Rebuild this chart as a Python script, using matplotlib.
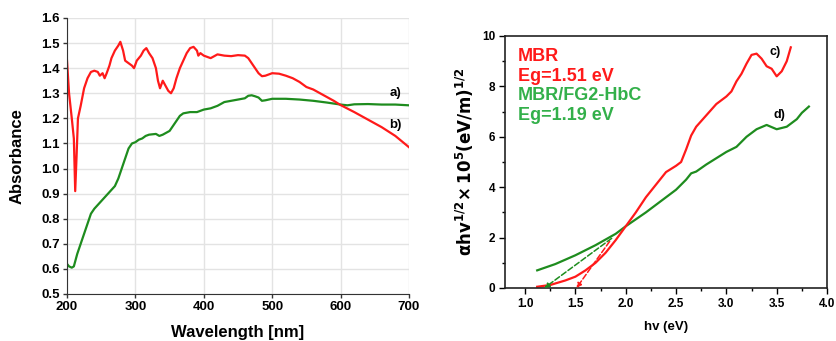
import matplotlib
matplotlib.use("Agg")
import matplotlib.pyplot as plt
from matplotlib.ticker import MultipleLocator

plt.rcParams['font.family'] = ['Liberation Sans', 'DejaVu Sans']
plt.rcParams['font.weight'] = 'bold'

RED = '#ff1a1a'
GREEN = '#1e8c1e'
TXT_GREEN = '#33b04a'

# UV-vis absorbance, curve b) (MBR, red)
wl_red = [200, 203, 207, 210, 212, 214, 216, 220, 225, 230, 235, 240, 245, 248, 252, 255,
          258, 262, 265, 270, 275, 278, 282, 285, 290, 295, 298, 302, 308, 312, 316, 320,
          325, 330, 333, 336, 340, 344, 348, 352, 356, 360, 365, 370, 375, 380, 385, 390,
          392, 395, 400, 410, 420, 430, 440, 450, 460, 465, 470, 475, 480, 485, 490, 500,
          510, 520, 530, 540, 550, 560, 570, 580, 590, 600, 620, 640, 660, 680, 700]
abs_red = [1.43, 1.30, 1.20, 1.12, 0.91, 1.05, 1.20, 1.25, 1.32, 1.36, 1.385, 1.39, 1.385, 1.37,
           1.38, 1.36, 1.38, 1.41, 1.44, 1.47, 1.49, 1.505, 1.47, 1.43, 1.42, 1.41, 1.40, 1.43,
           1.45, 1.47, 1.48, 1.46, 1.44, 1.40, 1.35, 1.32, 1.35, 1.33, 1.31, 1.30, 1.32, 1.36,
           1.40, 1.43, 1.46, 1.48, 1.485, 1.47, 1.45, 1.46, 1.45, 1.44, 1.455, 1.45, 1.448,
           1.452, 1.45, 1.44, 1.42, 1.40, 1.38, 1.368, 1.37, 1.38, 1.378, 1.37, 1.36, 1.345,
           1.325, 1.315, 1.30, 1.285, 1.27, 1.253, 1.225, 1.195, 1.165, 1.13, 1.085]

# curve a) (MBR/FG2-HbC, green)
wl_green = [200, 203, 207, 210, 212, 215, 220, 225, 230, 235, 240, 250, 260, 270, 275, 280,
            285, 290, 295, 300, 305, 310, 315, 320, 330, 335, 340, 350, 355, 360, 365, 370,
            380, 390, 400, 410, 420, 430, 440, 450, 460, 465, 470, 475, 480, 485, 490, 500,
            520, 540, 560, 580, 600, 610, 620, 640, 660, 680, 700]
abs_green = [0.62, 0.61, 0.605, 0.61, 0.63, 0.66, 0.70, 0.74, 0.78, 0.82, 0.84, 0.87, 0.90,
             0.93, 0.96, 1.00, 1.04, 1.08, 1.10, 1.105, 1.115, 1.12, 1.13, 1.135, 1.138, 1.13,
             1.135, 1.15, 1.17, 1.19, 1.21, 1.22, 1.225, 1.225, 1.235, 1.24, 1.25, 1.265, 1.27,
             1.275, 1.28, 1.29, 1.292, 1.288, 1.283, 1.27, 1.272, 1.278, 1.278, 1.275, 1.27,
             1.263, 1.255, 1.252, 1.256, 1.257, 1.255, 1.255, 1.252]

# Tauc plot, curve c) MBR
hv_red = [1.12, 1.25, 1.4, 1.5, 1.6, 1.7, 1.8, 1.9, 2.0, 2.1, 2.2, 2.3, 2.4, 2.5, 2.55, 2.6,
          2.65, 2.7, 2.8, 2.9, 3.0, 3.05, 3.1, 3.15, 3.2, 3.25, 3.3, 3.35, 3.4, 3.45, 3.5,
          3.55, 3.6, 3.64]
tauc_red = [0.05, 0.12, 0.3, 0.45, 0.7, 1.0, 1.4, 1.9, 2.45, 3.0, 3.6, 4.1, 4.6, 4.85, 5.0,
            5.5, 6.05, 6.4, 6.85, 7.3, 7.6, 7.8, 8.2, 8.5, 8.9, 9.25, 9.3, 9.1, 8.8, 8.7, 8.4,
            8.6, 9.0, 9.55]

# curve d) MBR/FG2-HbC
hv_green = [1.12, 1.3, 1.5, 1.7, 1.9, 2.0, 2.2, 2.4, 2.5, 2.6, 2.65, 2.7, 2.8, 2.9, 3.0,
            3.1, 3.15, 3.2, 3.3, 3.4, 3.5, 3.6, 3.7, 3.75, 3.82]
tauc_green = [0.7, 0.95, 1.3, 1.7, 2.15, 2.45, 3.0, 3.6, 3.9, 4.3, 4.55, 4.62, 4.9, 5.15,
              5.4, 5.6, 5.8, 6.0, 6.3, 6.47, 6.3, 6.4, 6.7, 6.95, 7.2]

# tangent (band gap) lines
fit_red_x = [1.51, 1.84]
fit_red_y = [0.0, 1.85]
fit_green_x = [1.19, 1.86]
fit_green_y = [0.0, 1.97]

legend_lines = ['MBR', 'Eg=1.51 eV', 'MBR/FG2-HbC', 'Eg=1.19 eV']
legend_colors = [RED, RED, TXT_GREEN, TXT_GREEN]

fig = plt.figure(figsize=(8.37, 3.41), dpi=100)

# ---- left: absorbance ----
ax1 = fig.add_axes([67/837, 1-294/341, 342/837, 276/341])
ax1.plot(wl_green, abs_green, color=GREEN, lw=1.6)
ax1.plot(wl_red, abs_red, color=RED, lw=1.6)
ax1.set_xlim(200, 700)
ax1.set_ylim(0.5, 1.6)
ax1.xaxis.set_major_locator(MultipleLocator(100))
ax1.yaxis.set_major_locator(MultipleLocator(0.1))
ax1.yaxis.set_major_formatter(plt.FormatStrFormatter('%.1f'))
ax1.grid(True, color='#e3e3e3', lw=1)
ax1.set_axisbelow(True)
for s in ['top', 'right']:
    ax1.spines[s].set_visible(False)
for s in ['left', 'bottom']:
    ax1.spines[s].set_color('#333333')
ax1.tick_params(labelsize=9.5, length=3, width=1, color='#333333', pad=2)
for lab in ax1.get_xticklabels() + ax1.get_yticklabels():
    lab.set_fontweight('bold')
ax1.set_ylabel('Absorbance', fontsize=12, fontweight='bold', labelpad=12)
ax1.set_xlabel('Wavelength [nm]', fontsize=12, fontweight='bold', labelpad=9)
ax1.text(680, 1.30, 'a)', fontsize=9.5, fontweight='bold', ha='center', va='center')
ax1.text(680, 1.174, 'b)', fontsize=9.5, fontweight='bold', ha='center', va='center')

# ---- right: Tauc plot ----
ax2 = fig.add_axes([505/837, 1-288/341, 322/837, 252/341])
ax2.plot(hv_green, tauc_green, color=GREEN, lw=1.6)
ax2.plot(hv_red, tauc_red, color=RED, lw=1.6)
ax2.annotate('', xy=(fit_red_x[0], fit_red_y[0]), xytext=(fit_red_x[1], fit_red_y[1]),
             arrowprops=dict(arrowstyle='-|>', ls='--', color=RED, lw=1.1,
                             mutation_scale=7, shrinkA=0, shrinkB=0))
ax2.annotate('', xy=(fit_green_x[0], fit_green_y[0]), xytext=(fit_green_x[1], fit_green_y[1]),
             arrowprops=dict(arrowstyle='-|>', ls='--', color=GREEN, lw=1.1,
                             mutation_scale=7, shrinkA=0, shrinkB=0))
ax2.set_xlim(0.8, 4.0)
ax2.set_ylim(0, 10)
ax2.xaxis.set_major_locator(MultipleLocator(0.5))
ax2.xaxis.set_minor_locator(MultipleLocator(0.25))
ax2.yaxis.set_major_locator(MultipleLocator(2))
ax2.yaxis.set_minor_locator(MultipleLocator(1))
ax2.xaxis.set_major_formatter(plt.FormatStrFormatter('%.1f'))
for s in ax2.spines.values():
    s.set_color('#222222')
    s.set_linewidth(1.2)
ax2.tick_params(which='major', labelsize=8.5, length=4, width=1, pad=3)
ax2.tick_params(which='minor', length=2.5, width=1)
for lab in ax2.get_xticklabels() + ax2.get_yticklabels():
    lab.set_fontweight('bold')
ax2.set_xlabel('hv (eV)', fontsize=9.5, fontweight='bold', labelpad=8)
ax2.set_ylabel(r'$\mathbf{\alpha hv^{1/2}\!\times 10^5(eV/m)^{1/2}}$', fontsize=12, labelpad=4)
ax2.text(3.48, 9.37, 'c)', fontsize=9, fontweight='bold', ha='center', va='center')
ax2.text(3.53, 6.87, 'd)', fontsize=9, fontweight='bold', ha='center', va='center')
for i, (t, c) in enumerate(zip(legend_lines, legend_colors)):
    ax2.text(0.93, 9.17 - i * 0.77, t, color=c, fontsize=13, fontweight='bold',
             ha='left', va='center')

fig.savefig('out.png', dpi=100)
